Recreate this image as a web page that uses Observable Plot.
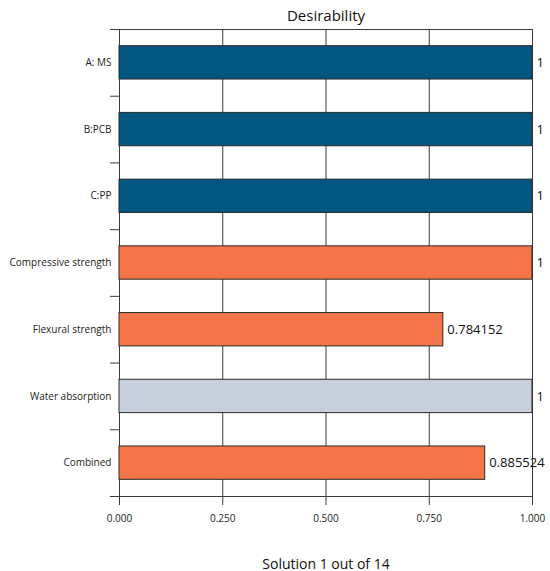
<!DOCTYPE html>
<html>
<head>
<meta charset="utf-8">
<script src="https://cdn.jsdelivr.net/npm/d3@7"></script>
<script src="https://cdn.jsdelivr.net/npm/@observablehq/plot@0.6"></script>
<style>
  body { margin: 0; background: #fff; }
  #chart svg { display: block; }
</style>
</head>
<body>
<div id="chart"></div>
<script>
const categories = ["A: MS", "B:PCB", "C:PP", "Compressive strength", "Flexural strength", "Water absorption", "Combined"];
const values = [1, 1, 1, 1, 0.784152, 1, 0.885524];
const labels = ["1", "1", "1", "1", "0.784152", "1", "0.885524"];
const groups = ["factor", "factor", "factor", "response", "response", "absorption", "response"];
const xTicks = [0, 0.25, 0.5, 0.75, 1];
const xTickLabels = ["0.000", "0.250", "0.500", "0.750", "1.000"];
const title = "Desirability";
const caption = "Solution 1 out of 14";

const data = categories.map((c, i) => ({i, category: c, value: values[i], label: labels[i], group: groups[i]}));
const font = "'Open Sans', sans-serif";
const lineColor = "#3a3a3a";

const chart = Plot.plot({
  width: 550,
  height: 571,
  marginTop: 29,
  marginBottom: 75,
  marginLeft: 119,
  marginRight: 18,
  style: {fontFamily: font, color: "#222", background: "#fff"},
  x: {domain: [0, 1]},
  y: {domain: [0, categories.length], reverse: true},
  color: {domain: ["factor", "response", "absorption"], range: ["#02567f", "#f47547", "#c8cfdc"]},
  marks: [
    Plot.ruleX(xTicks.slice(1), {stroke: lineColor, strokeWidth: 1}),
    Plot.ruleX([0], {stroke: lineColor, strokeWidth: 1}),
    Plot.ruleY([0, categories.length], {stroke: lineColor, strokeWidth: 1.2}),
    Plot.rectX(data, {
      x1: 0, x2: "value",
      y1: d => d.i + 0.25, y2: d => d.i + 0.75,
      fill: "group", stroke: "#2b2b2b", strokeWidth: 1
    }),
    Plot.text(data, {
      x: "value", y: d => d.i + 0.5, text: "label",
      textAnchor: "start", dx: 4, fontSize: 13, fill: "#111"
    }),
    Plot.axisY(categories.map((c, i) => i + 0.5), {
      tickSize: 0, tickPadding: 8, fontSize: 10, tickFormat: v => categories[Math.floor(v)], label: null, fill: "#222"
    }),
    Plot.axisY(d3.range(categories.length + 1), {
      tickSize: 9, tickFormat: () => "", label: null, stroke: lineColor
    }),
    Plot.axisX(xTicks, {
      tickSize: 9, tickPadding: 9, fontSize: 10, tickFormat: v => xTickLabels[xTicks.indexOf(v)], label: null, stroke: lineColor, fill: "#222"
    }),
    Plot.text([title], {frameAnchor: "top", dy: -9, fontSize: 15, fill: "#111", lineAnchor: "bottom"}),
    Plot.text([caption], {frameAnchor: "bottom", dy: 72, fontSize: 14, fill: "#111", lineAnchor: "bottom"})
  ]
});
document.getElementById("chart").appendChild(chart);
</script>
</body>
</html>
